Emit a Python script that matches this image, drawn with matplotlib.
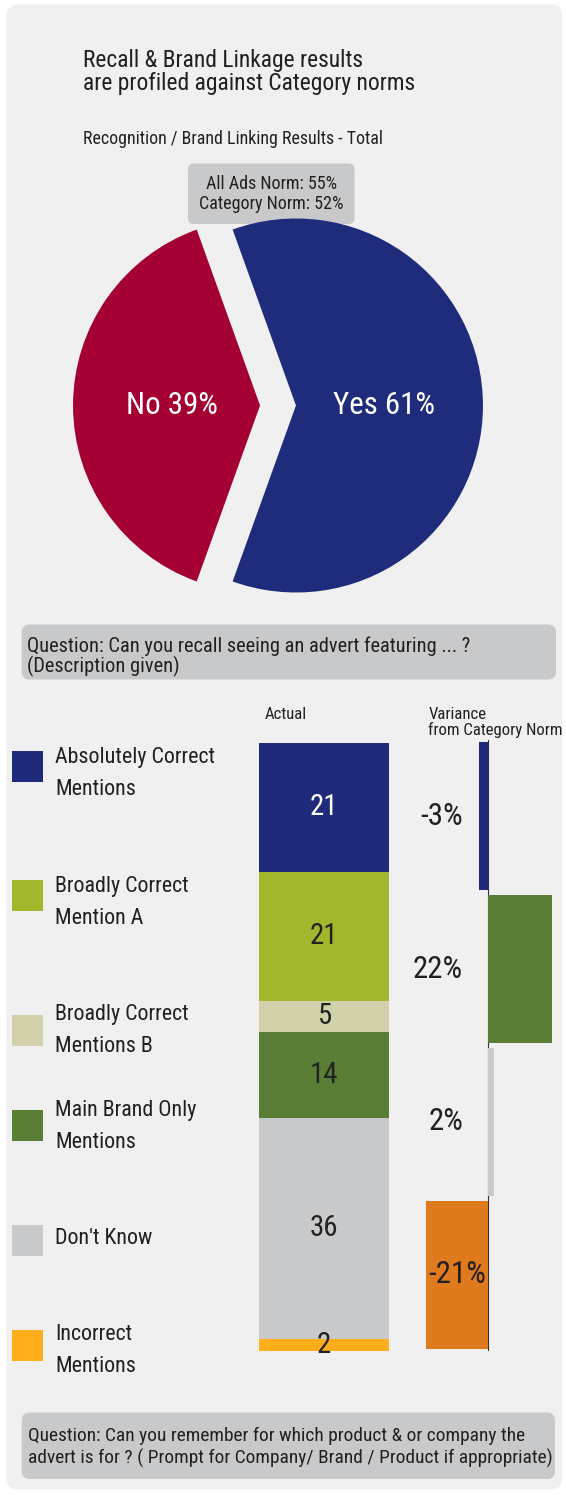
import matplotlib
matplotlib.use('Agg')
import matplotlib.pyplot as plt
from matplotlib import font_manager
from matplotlib.patches import FancyBboxPatch, Rectangle
import numpy as np

# pick a condensed face if one is there, else plain Roboto
names = {f.name for f in font_manager.fontManager.ttflist}
FONT = 'Roboto'
for cand in ['Roboto Condensed', 'Archivo Narrow', 'Liberation Sans Narrow', 'Asap Condensed']:
    if cand in names:
        FONT = cand
        break
plt.rcParams['font.family'] = [FONT, 'DejaVu Sans']

# data
pie_labels = ['Yes', 'No']
pie_values = [61, 39]
pie_colors = ['#1f2c7b', '#a50034']

categories = ['Absolutely Correct\nMentions', 'Broadly Correct\nMention A',
              'Broadly Correct\nMentions B', 'Main Brand Only\nMentions',
              "Don't Know", 'Incorrect\nMentions']
actual = [21, 21, 5, 14, 36, 2]
cat_colors = ['#1f2a7a', '#a3b62c', '#d3d1ab', '#5b7e36', '#c9cacc', '#fdae1a']
actual_text = ['white', '#222222', '#222222', '#222222', '#222222', '#222222']

variance = [-3, 22, 2, -21]
var_colors = ['#1f2a7a', '#5b7e36', '#c9cacc', '#e07a1f']

q1 = ['Question: Can you recall seeing an advert featuring ... ?', '(Description given)']
q2 = ['Question: Can you remember for which product & or company the',
      'advert is for ? ( Prompt for Company/ Brand / Product if appropriate)']

W, H = 566, 1495
TXT = '#231f20'
BOX = '#c8c9cb'

fig = plt.figure(figsize=(W / 100, H / 100), dpi=100)
fig.patch.set_facecolor('white')
renderer = fig.canvas.get_renderer()

def width_at(s, size):
    t = fig.text(0, 0, s, fontsize=size)
    w = t.get_window_extent(renderer).width
    t.remove()
    return w

# scale all font sizes so the title line is as wide as in the reference (280 px)
k = 280 / width_at('Recall & Brand Linkage results', 17.5)
def fs(s):
    return s * k

def px_axes(x0, y0, x1, y1):
    # axes from pixel box (top-left origin)
    return fig.add_axes([x0 / W, (H - y1) / H, (x1 - x0) / W, (y1 - y0) / H])

# background / text layer
bg = fig.add_axes([0, 0, 1, 1])
bg.set_xlim(0, W)
bg.set_ylim(H, 0)
bg.axis('off')
bg.add_patch(FancyBboxPatch((6.5, 4.5), 556, 1485, boxstyle='round,pad=0,rounding_size=12',
                            fc='#f0f0f0', ec='none'))

bg.text(83, 67.5, 'Recall & Brand Linkage results', fontsize=fs(17.5), color=TXT, va='baseline')
bg.text(83, 90, 'are profiled against Category norms', fontsize=fs(17.5), color=TXT, va='baseline')
bg.text(83, 143.5, 'Recognition / Brand Linking Results - Total', fontsize=fs(13.3), color=TXT,
        va='baseline')

bg.add_patch(FancyBboxPatch((188, 163.5), 166.5, 60.5, boxstyle='round,pad=0,rounding_size=6',
                            fc=BOX, ec='none'))
bg.text(271, 189, 'All Ads Norm: 55%', fontsize=fs(13.4), color=TXT, ha='center', va='baseline')
bg.text(271, 208.7, 'Category Norm: 52%', fontsize=fs(13.4), color=TXT, ha='center', va='baseline')

# question boxes
bg.add_patch(FancyBboxPatch((21.7, 624.5), 534.3, 55, boxstyle='round,pad=0,rounding_size=8',
                            fc=BOX, ec='none'))
q1_size = 442 / width_at(q1[0], 15.5) * 15.5
bg.text(27, 652.3, q1[0], fontsize=q1_size, color=TXT, va='baseline')
bg.text(27, 672.5, q1[1], fontsize=q1_size, color=TXT, va='baseline')

bg.add_patch(FancyBboxPatch((21.7, 1412.5), 533.3, 66.5, boxstyle='round,pad=0,rounding_size=8',
                            fc=BOX, ec='none'))
q2_size = min(522 / width_at(s, 15.5) * 15.5 for s in q2)
bg.text(28, 1441, q2[0], fontsize=q2_size, color=TXT, va='baseline')
bg.text(28, 1463.8, q2[1], fontsize=q2_size, color=TXT, va='baseline')

bg.text(265, 719, 'Actual', fontsize=fs(12.5), color=TXT, va='baseline')
bg.text(428.5, 719, 'Variance', fontsize=fs(12.5), color=TXT, va='baseline')
bg.text(428.5, 735, 'from Category Norm', fontsize=fs(12.5), color=TXT, va='baseline')

# legend
sq_tops = [751, 880, 1015, 1110, 1225, 1330]
txt_base = [763, 892, 1020, 1116, 1244, 1340]
for name, col, top, base in zip(categories, cat_colors, sq_tops, txt_base):
    bg.add_patch(Rectangle((12, top), 31, 31, fc=col, ec='none'))
    for j, line in enumerate(name.split('\n')):
        bg.text(55, base + 32 * j, line, fontsize=fs(16.4), color=TXT, va='baseline')

# pie
R = 187
cx, cy = 278, 405.5
pax = px_axes(cx - 1.25 * R, cy - 1.25 * R, cx + 1.25 * R, cy + 1.25 * R)
wedges, texts = pax.pie(pie_values, colors=pie_colors, startangle=-pie_values[0] * 3.6 / 2,
                        explode=[0.096, 0.096], radius=1, labeldistance=0.47,
                        labels=[f'{l} {v}%' for l, v in zip(pie_labels, pie_values)],
                        wedgeprops=dict(linewidth=0))
for t in texts:
    t.set_ha('center')
    t.set_va('center')
    t.set_color('white')
    t.set_fontsize(fs(23))
pax.set_xlim(-1.25, 1.25)
pax.set_ylim(-1.25, 1.25)
pax.axis('off')

# stacked actual bar
bax = px_axes(259, 743, 389, 1351)
bottoms = np.concatenate([[0], np.cumsum(actual)[:-1]])
bax.bar([0] * len(actual), actual, bottom=bottoms, width=1, color=cat_colors, linewidth=0)
for v, b, tc in zip(actual, bottoms, actual_text):
    bax.text(0, b + v / 2, str(v), ha='center', va='center', fontsize=fs(21.5), color=tc)
bax.set_xlim(-0.5, 0.5)
bax.set_ylim(sum(actual), 0)
bax.axis('off')

# variance bars
vax = px_axes(400, 740, 560, 1351)
rows = np.arange(len(variance))
vax.axvline(0, color='#333333', lw=0.8, zorder=1)
vax.barh(rows, variance, height=0.97, color=var_colors, linewidth=0, zorder=2)
for r, v in zip(rows, variance):
    lx = -8.5 if v > -8.5 else -0.7
    vax.text(lx, r, f'{v}%', ha='right', va='center', fontsize=fs(23), color=TXT, zorder=3)
vax.set_xlim(-30, 24.6)
vax.set_ylim(len(variance) - 0.5, -0.5)
vax.axis('off')

fig.savefig('out.png', dpi=100, facecolor='white')
